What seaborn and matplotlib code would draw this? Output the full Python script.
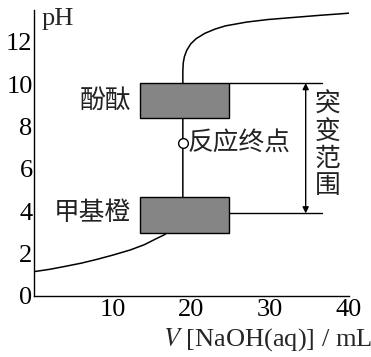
import matplotlib
matplotlib.use("Agg")
import matplotlib.pyplot as plt
import seaborn as sns
import numpy as np
import pandas as pd

# ---- data ----
V_curve = [0.0, 2.0, 3.7, 6.0, 8.0, 10.0, 12.2, 14.0, 15.6, 16.5, 17.1, 18.2, 18.9,
           18.9, 18.95, 19.1, 19.4, 19.9, 20.6, 21.7, 23.0, 24.3, 27.0, 29.7, 33.0, 36.0, 40.0]
pH_curve = [1.15, 1.26, 1.38, 1.55, 1.73, 1.93, 2.17, 2.42, 2.72, 2.88, 3.03, 3.4, 3.9,
            10.6, 11.0, 11.3, 11.6, 11.9, 12.15, 12.4, 12.6, 12.75, 12.93, 13.05, 13.15, 13.24, 13.35]

indicators = ["酚酞", "甲基橙"]
ind_low = [8.4, 2.97]
ind_high = [10.05, 4.67]
ind_vleft = [13.5, 13.5]
ind_vright = [24.8, 24.8]

endpoint_V = 18.9
endpoint_pH = 7.2
endpoint_label = "反应终点"

jump_top = 10.05
jump_bottom = 3.9
jump_label = "突变范围"

xticks = [10, 20, 30, 40]
yticks = [0, 2, 4, 6, 8, 10, 12]

# ---- style ----
sns.set_theme(style="white")
plt.rcParams["font.family"] = ["Liberation Serif", "DejaVu Serif"]
plt.rcParams["mathtext.fontset"] = "stix"
cjk = ["Noto Sans CJK SC", "DejaVu Sans"]

fig = plt.figure(figsize=(3.71, 3.57), dpi=100)
ax = fig.add_axes([34 / 371, (357 - 296) / 357, 315 / 371, 286 / 357])

df = pd.DataFrame({"V": V_curve, "pH": pH_curve})
sns.lineplot(data=df, x="V", y="pH", sort=False, estimator=None, color="black",
             lw=1.1, ax=ax, zorder=2)

# indicator boxes
for name, lo, hi, l, r in zip(indicators, ind_low, ind_high, ind_vleft, ind_vright):
    ax.bar(l, hi - lo, bottom=lo, width=r - l, align="edge",
           color="#858585", edgecolor="black", linewidth=1.0, zorder=3)
    ax.text(l - 1.2, (lo + hi) / 2 + (0.0 if hi > 6 else 0.1), name, family=cjk, fontsize=18.5,
            ha="right", va="center", color="#222222")

# horizontal guide lines
ax.plot([ind_vright[0], 36.6], [jump_top, jump_top], color="black", lw=1.0, zorder=2)
ax.plot([ind_vright[1], 36.6], [jump_bottom, jump_bottom], color="black", lw=1.0, zorder=2)

# double arrow
ax.annotate("", xy=(34.5, jump_top), xytext=(34.5, jump_bottom),
            arrowprops=dict(arrowstyle="<|-|>", color="black", lw=1.0,
                            mutation_scale=9, shrinkA=0, shrinkB=0))
ax.text(37.3, (jump_top + jump_bottom) / 2 + 0.15, "\n".join(jump_label), family=cjk,
        fontsize=18.5, ha="center", va="center", linespacing=1.05, color="#222222")

# end point
ax.plot([endpoint_V], [endpoint_pH], marker="o", ms=7, mfc="white", mec="black",
        mew=1.0, zorder=4)
ax.text(endpoint_V + 0.6, endpoint_pH, endpoint_label, family=cjk, fontsize=18.5,
        ha="left", va="center", color="#222222")

# axes
ax.set_xlim(0, 40)
ax.set_ylim(0, 13.5)
ax.set_xticks(xticks)
ax.set_yticks(yticks)
ax.tick_params(axis="both", direction="in", length=6, width=1, colors="black",
               labelsize=19, pad=2)
ax.tick_params(axis="y", pad=1)
for s in ["top", "right"]:
    ax.spines[s].set_visible(False)
for s in ["left", "bottom"]:
    ax.spines[s].set_color("black")
    ax.spines[s].set_linewidth(1.0)
ax.set_xlabel("")
ax.set_ylabel("")

fig.text(42 / 371, 1 - 19 / 357, "pH", fontsize=19, ha="left", va="center")
fig.text(163 / 371, 1 - 340 / 357, "$V$ [NaOH(aq)] / mL", fontsize=19,
         ha="left", va="center")

fig.savefig("out.png", dpi=100)
